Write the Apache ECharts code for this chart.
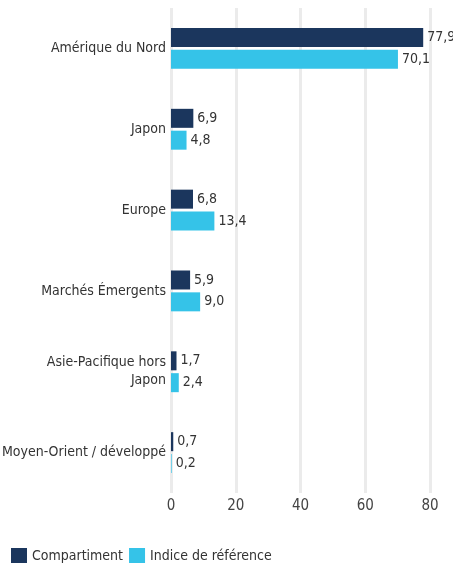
<!DOCTYPE html>
<html>
<head>
<meta charset="utf-8">
<script src="https://cdn.jsdelivr.net/npm/echarts@6/dist/echarts.min.js"></script>
<style>
html, body { margin: 0; padding: 0; background: #fff; }
#chart { width: 453px; height: 563px; }
</style>
</head>
<body>
<div id="chart"></div>
<script>
// données
var categories = ['Amérique du Nord', 'Japon', 'Europe', 'Marchés Émergents', 'Asie-Pacifique hors\nJapon', 'Moyen-Orient / développé'];
var compartiment = [77.9, 6.9, 6.8, 5.9, 1.7, 0.7];
var indice = [70.1, 4.8, 13.4, 9.0, 2.4, 0.2];
var xTicks = [0, 20, 40, 60, 80];

var FONT = "'Liberation Sans Narrow', 'DejaVu Sans Condensed', sans-serif";
var FS = 14;

var chart = echarts.init(document.getElementById('chart'));

function fmt(p) {
    return p.value.toFixed(1).replace('.', ',');
}

chart.setOption({
    animation: false,
    textStyle: { fontFamily: FONT },
    legend: {
        left: 6,
        bottom: -6,
        itemWidth: 16,
        itemHeight: 16,
        itemGap: 6,
        icon: 'rect',
        textStyle: { color: '#333', fontSize: FS, fontFamily: FONT },
        data: ['Compartiment', 'Indice de référence']
    },
    grid: {
        left: 171,
        right: 23,
        top: 8,
        bottom: 70,
        containLabel: false,
        outerBoundsMode: 'none'
    },
    xAxis: {
        type: 'value',
        min: 0,
        max: 80,
        interval: 20,
        axisLine: { show: false },
        axisTick: { show: false },
        axisLabel: {
            color: '#444',
            fontSize: 15,
            fontFamily: FONT,
            margin: 6,
            formatter: function (v) { return xTicks.indexOf(v) >= 0 ? String(v) : ''; }
        },
        splitLine: { show: true, lineStyle: { color: '#ebebeb', width: 3 } }
    },
    yAxis: {
        type: 'category',
        inverse: true,
        data: categories,
        axisLine: { show: false },
        axisTick: { show: false },
        axisLabel: {
            color: '#333',
            fontSize: FS,
            fontFamily: FONT,
            margin: 5,
            lineHeight: 18
        }
    },
    series: [
        {
            name: 'Compartiment',
            type: 'bar',
            data: compartiment,
            barWidth: 19,
            barGap: '15%',
            itemStyle: { color: '#1b365d' },
            label: {
                show: true,
                position: 'right',
                distance: 4,
                color: '#333',
                fontSize: FS,
                fontFamily: FONT,
                formatter: fmt
            }
        },
        {
            name: 'Indice de référence',
            type: 'bar',
            data: indice,
            barWidth: 19,
            itemStyle: { color: '#35c3e8' },
            label: {
                show: true,
                position: 'right',
                distance: 4,
                color: '#333',
                fontSize: FS,
                fontFamily: FONT,
                formatter: fmt
            }
        }
    ]
});
</script>
</body>
</html>
